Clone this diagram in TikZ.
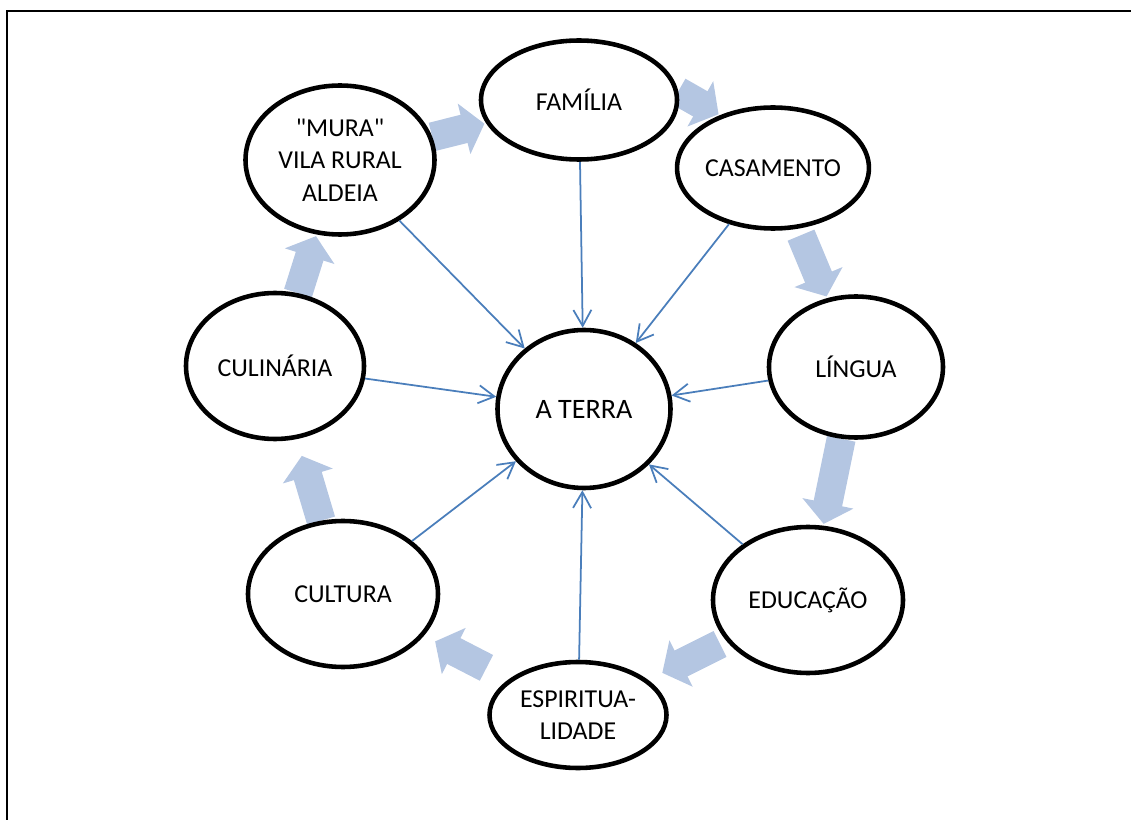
\documentclass[tikz,border=0pt]{standalone}
\usepackage{fontspec}
\setmainfont{Carlito}
\usetikzlibrary{shapes.geometric,arrows.meta,backgrounds}
\definecolor{linkblue}{RGB}{74,126,187}
\definecolor{flowblue}{RGB}{180,198,226}

\begin{document}
\begin{tikzpicture}[
  theme/.style={ellipse, draw=black, line width=2.6pt, fill=white, inner sep=0pt, align=center, font=\fontsize{14.7}{18.5}\selectfont},
  arr/.style={-{Straight Barb[length=3.2mm,width=3.6mm]}, line width=1pt, linkblue},
  flowarr/.style={-{Triangle[length=0.42cm,width=1.02cm]}, line width=0.58cm, flowblue, shorten >=1pt}
]
  \useasboundingbox (0,0) rectangle (22.62,-16.4);
  \draw[line width=1.6pt] (0.14,-16.4) -- (0.14,-0.22) -- (22.62,-0.22);

  % themes
  \node[theme, minimum width=3.92cm, minimum height=2.38cm] (familia) at (11.58,-2.0) {FAMÍLIA};
  \node[theme, minimum width=3.78cm, minimum height=2.98cm] (mura) at (6.8,-3.2) {\textquotedbl MURA\textquotedbl\\VILA RURAL\\ALDEIA};
  \node[theme, minimum width=3.8cm, minimum height=2.42cm] (casamento) at (15.46,-3.36) {CASAMENTO};
  \node[theme, minimum width=3.48cm, minimum height=2.82cm] (lingua) at (17.12,-7.34) {LÍNGUA};
  \node[theme, minimum width=3.46cm, minimum height=3.16cm, font=\fontsize{16}{19}\selectfont] (terra) at (11.68,-8.18) {A TERRA};
  \node[theme, minimum width=3.56cm, minimum height=2.92cm] (culinaria) at (5.5,-7.32) {CULINÁRIA};
  \node[theme, minimum width=3.8cm, minimum height=2.92cm] (cultura) at (6.86,-11.88) {CULTURA};
  \node[theme, minimum width=3.8cm, minimum height=2.92cm] (educacao) at (16.16,-12.0) {EDUCAÇÃO};
  \node[theme, minimum width=3.54cm, minimum height=2.12cm] (espiritualidade) at (11.56,-14.3) {ESPIRITUA-\\LIDADE};

  % cycle arrows
  \begin{scope}[on background layer]
    \draw[flowarr] (mura) -- (familia);
    \draw[flowarr] (familia.5) -- (casamento.135);
    \draw[flowarr, shorten <=4pt] (casamento) -- (lingua);
    \draw[flowarr] (lingua) -- (educacao);
    \draw[flowarr, shorten <=4pt, shorten >=9pt] (educacao) -- (espiritualidade);
    \draw[flowarr, shorten <=0.5cm, shorten >=0.25cm] (espiritualidade) -- (cultura);
    \draw[flowarr, shorten >=0.35cm] (cultura) -- (culinaria);
    \draw[flowarr] (culinaria) -- (mura);
  \end{scope}

  \draw[arr] (mura) -- (terra);
  \draw[arr] (familia) -- (terra);
  \draw[arr] (casamento) -- (terra);
  \draw[arr] (lingua) -- (terra);
  \draw[arr] (educacao) -- (terra);
  \draw[arr] (espiritualidade) -- (terra);
  \draw[arr] (cultura) -- (terra);
  \draw[arr] (culinaria) -- (terra);
\end{tikzpicture}
\end{document}
